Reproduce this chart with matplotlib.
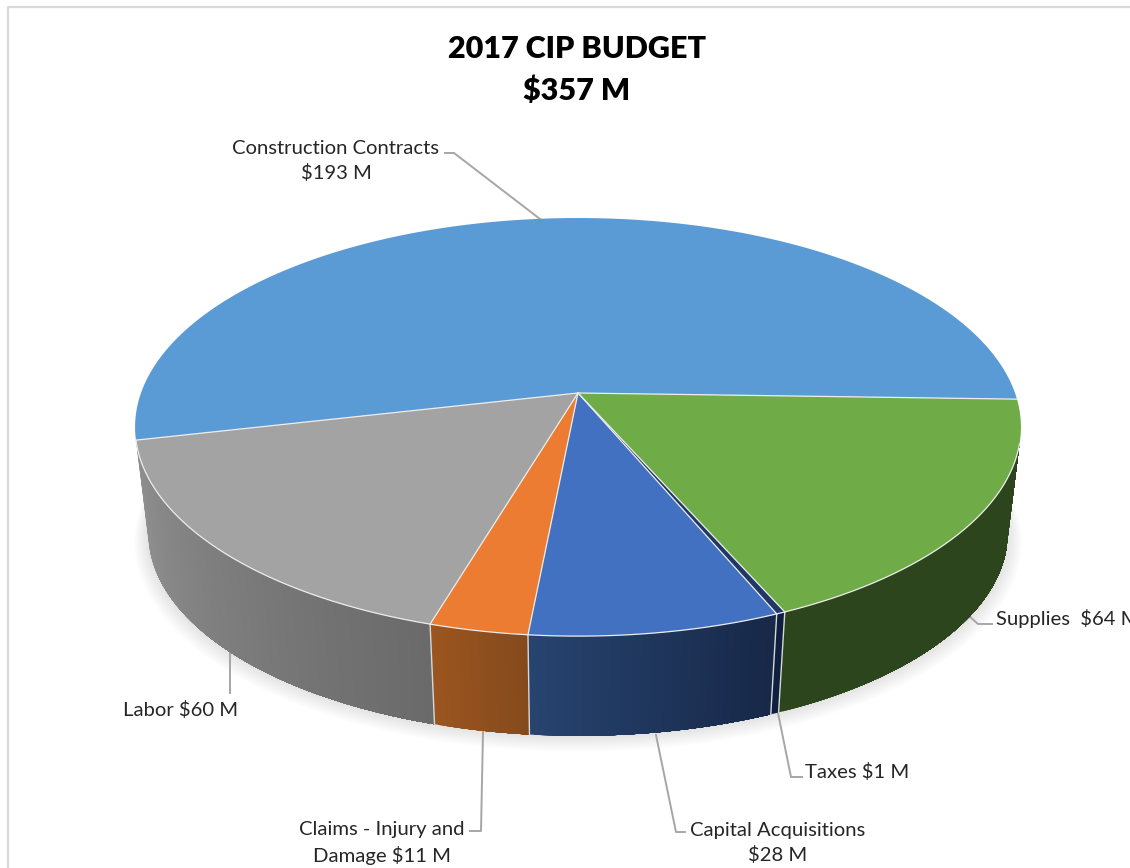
import numpy as np
import matplotlib
matplotlib.use('Agg')
import matplotlib.pyplot as plt
from matplotlib.colors import to_rgb

# slices, clockwise from the left edge of the big blue one
names = ['Construction Contracts', 'Supplies', 'Taxes', 'Capital Acquisitions',
         'Claims - Injury and Damage', 'Labor']
values = [193, 64, 1, 28, 11, 60]
top_colors = ['#5B9BD5', '#6FAC47', '#1F3864', '#4371C2', '#EB7C31', '#A3A3A3']
wall_left = [None, '#2D451C', '#0F1F3F', '#27436F', '#9B5520', '#919191']
wall_right = [None, '#2D451C', '#0F1F3F', '#172848', '#854A1C', '#6A6A6A']

title_lines = ['2017 CIP BUDGET', '$357 M']
label_texts = ['Construction Contracts\n$193 M', 'Supplies  $64 M', 'Taxes $1 M',
               'Capital Acquisitions\n$28 M', 'Claims - Injury and\nDamage $11 M',
               'Labor $60 M']

# pie geometry, in picture pixels
CX, CY = 578, 393
A, B, K = 437, 203.5, 0.163
DROP, SHRINK = 107, 0.97
START = 192.9
WALL_END = -14


def rim(theta, scale=1.0, drop=0):
    t = np.radians(theta)
    d = 1 + K * np.sin(t)
    return (CX + scale * A * np.cos(t) / d, CY + drop - scale * B * np.sin(t) / d)


plt.rcParams['font.family'] = ['Lato', 'DejaVu Sans']
fig = plt.figure(figsize=(11.3, 8.68), dpi=100)
ax = fig.add_axes([0, 0, 1, 1])
ax.set_xlim(0, 1130)
ax.set_ylim(868, 0)
ax.axis('off')

# screenshot frame
ax.plot([8, 8, 1130], [868, 7, 7], color='#D9D9D9', lw=1.6)

edges = START - np.cumsum([0] + values) / sum(values) * 360

# soft shadow under the wall
front = np.linspace(-200, 20, 200)
for i in range(10):
    sx, sy = rim(front, SHRINK + 0.0035 * i, DROP + 0.9 * i)
    ax.fill(sx, sy, color='black', alpha=0.012, lw=0, zorder=1)

# side wall, strips overlap so no seams show between them
for i in range(1, len(values)):
    a0, a1 = edges[i], edges[i + 1]
    if i == 1:
        a0 = WALL_END
    c0 = np.array(to_rgb(wall_left[i]))
    c1 = np.array(to_rgb(wall_right[i]))
    n = max(int(abs(a1 - a0) * 2), 2)
    steps = np.linspace(a1, a0, n + 1)
    for j in range(n):
        arc = np.array([steps[j], steps[-1]])
        tx, ty = rim(np.linspace(arc[0], arc[1], 30))
        bx, by = rim(np.linspace(arc[1], arc[0], 30), SHRINK, DROP)
        col = c0 + (c1 - c0) * j / max(n - 1, 1)
        ax.fill(np.r_[tx, bx], np.r_[ty, by], color=col, lw=0, zorder=2)

# lines between the wall segments
for a in edges[2:-1]:
    tx, ty = rim(a)
    bx, by = rim(a, SHRINK, DROP)
    ax.plot([tx, bx], [ty, by], color='#D8D8D8', lw=1.0, zorder=3)

# top face
for i, v in enumerate(values):
    arc = np.linspace(edges[i], edges[i + 1], max(int(v * 3), 6))
    x, y = rim(arc)
    ax.fill(np.r_[CX, x], np.r_[CY, y], color=top_colors[i], lw=0, zorder=4)

# pale lines on the slice borders and the front rim
for a in edges[:-1]:
    ex, ey = rim(a)
    ax.plot([CX, ex], [CY, ey], color='#EDEDED', lw=0.9, zorder=5)
fx, fy = rim(np.linspace(WALL_END, edges[-1], 200))
ax.plot(fx, fy, color='#EDEDED', lw=0.9, zorder=5)

# leader lines
leader_x = [[540, 454, 445], [968, 978, 992], [778, 791, 802], [656, 676, 685],
            [483, 481, 470], [230, 230]]
leader_y = [[219, 153, 153], [615, 624, 624], [713, 777, 777], [735, 832, 832],
            [732, 831, 831], [650, 693]]
for lx, ly in zip(leader_x, leader_y):
    ax.plot(lx, ly, color='#A6A6A6', lw=1.4, zorder=1.5)

# labels
label_x = [336, 996, 805, 778, 382, 123]
label_y = [161, 618, 772, 843, 843, 710]
label_ha = ['center', 'left', 'left', 'center', 'center', 'left']
for t, x, y, ha in zip(label_texts, label_x, label_y, label_ha):
    ax.text(x, y, t, ha=ha, va='center', fontsize=14.6, color='#262626',
            linespacing=1.5, zorder=6)

ax.text(577, 49, title_lines[0], ha='center', va='center', fontsize=22,
        fontweight='heavy', color='black')
ax.text(577, 91, title_lines[1], ha='center', va='center', fontsize=22,
        fontweight='heavy', color='black')

fig.savefig('out.png', dpi=100, facecolor='white')
